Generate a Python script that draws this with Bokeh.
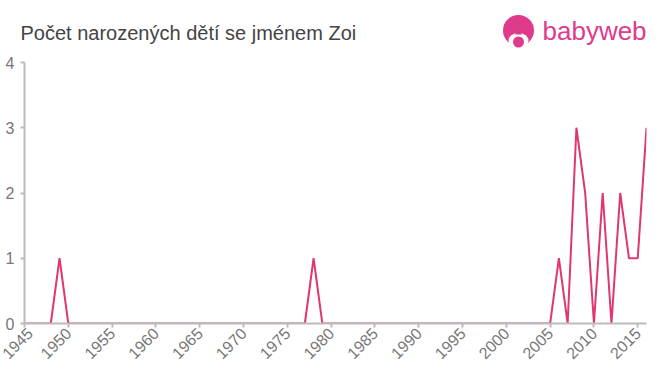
import math
from bokeh.plotting import figure
from bokeh.layouts import column
from bokeh.models import Range1d, FixedTicker
from bokeh.core.properties import value
from bokeh.embed import file_html
from bokeh.resources import INLINE

years = [1945, 1946, 1947, 1948, 1949, 1950, 1976, 1977, 1978, 1979,
         2004, 2005, 2006, 2007, 2008, 2009, 2010, 2011, 2012, 2013, 2014, 2015, 2016]
counts = [0, 0, 0, 0, 1, 0, 0, 0, 1, 0,
          0, 0, 1, 0, 3, 2, 0, 2, 0, 2, 1, 1, 3]
x_ticks = list(range(1945, 2016, 5))
y_ticks = [0, 1, 2, 3, 4]
title_text = "Počet narozených dětí se jménem Zoi"
logo_text = "babyweb"

LINE = "#e0386c"
PINK = "#e03a8c"
GREY = "#bbbbbb"
LABEL = "#777777"

W = 660
HEADER_H = 52

# ---- header (title + logo) ----
h = figure(width=W, height=HEADER_H, output_backend="svg", toolbar_location=None,
           x_range=Range1d(0, W), y_range=Range1d(HEADER_H, 0),
           min_border=0, x_axis_type=None, y_axis_type=None)
h.frame_align = False
h.outline_line_color = None
h.xgrid.visible = False
h.ygrid.visible = False
h.text(x=[20], y=[32.6], text=[title_text], text_font=value("Liberation Sans"),
       text_font_size="20px", text_color="#444444", text_baseline="alphabetic")
h.scatter(x=[518], y=[30], size=31, marker="circle", fill_color=PINK, line_color=None)
h.ellipse(x=[518], y=[40], width=20, height=15, fill_color="white", line_color=None)
h.scatter(x=[518], y=[32], size=7, marker="triangle", fill_color=PINK, line_color=None)
h.scatter(x=[518], y=[41.5], size=11, marker="circle", fill_color=PINK, line_color=None)
h.text(x=[542], y=[30.4], text=[logo_text], text_font=value("Liberation Sans"),
       text_font_size="26px", text_color=PINK, text_baseline="alphabetic")

# ---- main chart ----
p = figure(width=W, height=375 - HEADER_H, output_backend="svg", toolbar_location=None,
           x_range=Range1d(1945, 2016), y_range=Range1d(0, 4),
           min_border_left=24, min_border_right=14, min_border_top=10, min_border_bottom=52)
p.frame_align = False
p.frame_width = 622
p.frame_height = 261
p.outline_line_color = None
p.xgrid.visible = False
p.ygrid.visible = False

p.line(years, counts, line_color=LINE, line_width=2)

for ax in (p.xaxis[0], p.yaxis[0]):
    ax.axis_line_color = GREY
    ax.axis_line_width = 2
    ax.major_tick_line_color = GREY
    ax.major_tick_line_width = 2
    ax.minor_tick_line_color = None
    ax.major_tick_in = 0
    ax.major_tick_out = 4
    ax.major_label_text_color = LABEL
    ax.major_label_text_font = "Liberation Sans"
    ax.major_label_text_font_size = "16px"

p.xaxis.ticker = FixedTicker(ticks=x_ticks)
p.yaxis.ticker = FixedTicker(ticks=y_ticks)
p.xaxis.major_label_orientation = math.pi / 4
p.xaxis.major_label_standoff = 3
p.yaxis.major_label_standoff = 6

layout = column(h, p, spacing=0)
open("out.html", "w").write(file_html(layout, INLINE))
